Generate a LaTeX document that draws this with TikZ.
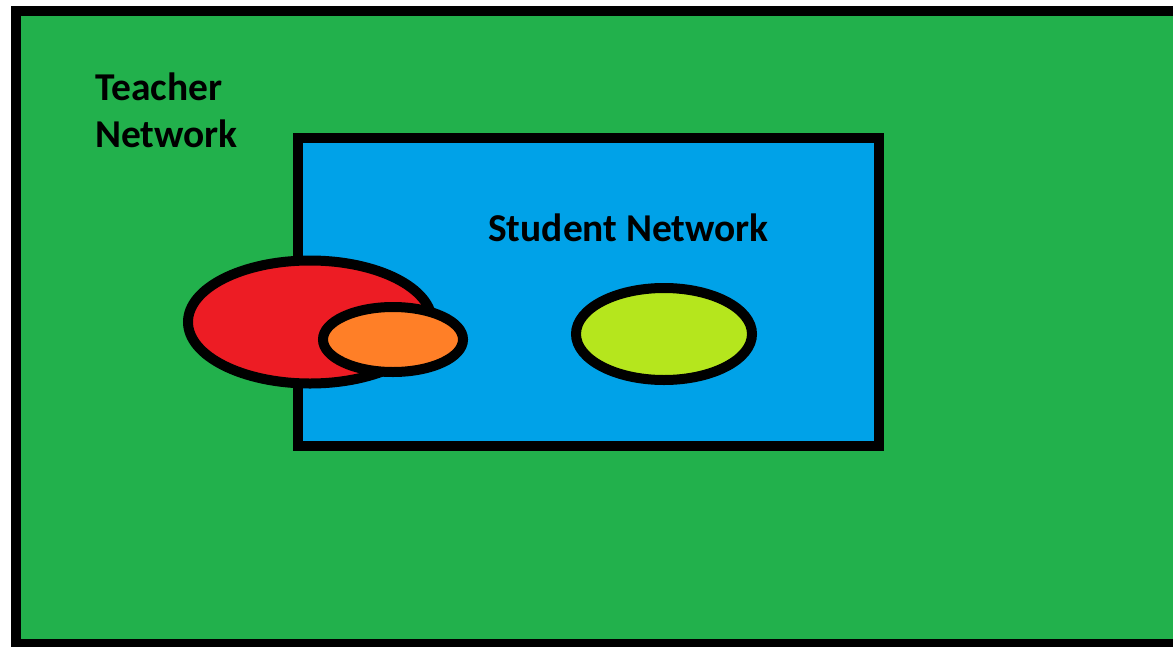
\documentclass[tikz,border=0pt]{standalone}
\usepackage{fontspec}
\setmainfont{Carlito}
\definecolor{paintgreen}{HTML}{22B14C}
\definecolor{paintblue}{HTML}{00A2E8}
\definecolor{paintred}{HTML}{ED1C24}
\definecolor{paintorange}{HTML}{FF7F27}
\definecolor{paintlime}{HTML}{B5E61D}
\tikzset{
  frame/.style={draw=black, line width=7.5pt},
  blob/.style={draw=black, line width=7.5pt},
  label/.style={inner sep=0pt, font=\fontsize{29.6}{35.25}\selectfont\bfseries, text=black}
}
\begin{document}
\begin{tikzpicture}[x=0.75pt, y=-0.75pt]
\useasboundingbox (0,0) rectangle (1173,646);
\clip (0,0) rectangle (1173,646);
\fill[white] (0,0) rectangle (1173,646);
% teacher (outer) frame
\draw[frame, fill=paintgreen] (16,10.5) rectangle (1200,644);
% student frame
\draw[frame, fill=paintblue] (298,137.7) rectangle (879,446);
% ellipses
\draw[blob, fill=paintred] (310,322) ellipse [x radius=122, y radius=61.5];
\draw[blob, fill=paintorange] (393,339.5) ellipse [x radius=70, y radius=32.5];
\draw[blob, fill=paintlime] (664,334) ellipse [x radius=88, y radius=46];
% labels
\node[label, anchor=base west, align=left] (teacher) at (95,147) {Teacher\\Network};
\node[label, anchor=base west] (student) at (488,241) {Student Network};
\end{tikzpicture}
\end{document}
